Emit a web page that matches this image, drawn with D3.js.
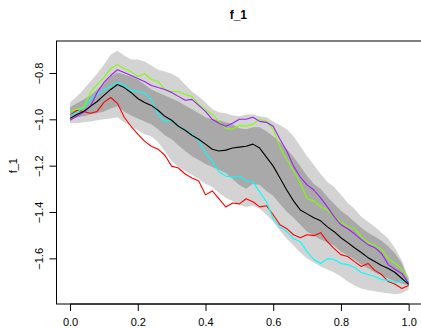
<!DOCTYPE html>
<html>
<head>
<meta charset="utf-8">
<script src="https://cdn.jsdelivr.net/npm/d3@7"></script>
<style>
  body { margin: 0; background: #fff; }
  svg { display: block; font-family: "Liberation Sans", Arial, sans-serif; }
</style>
</head>
<body>
<div id="chart"></div>
<script>
// sample positions along the x axis
const xs = [0, 0.02, 0.04, 0.06, 0.08, 0.10, 0.12, 0.14, 0.16, 0.18, 0.20, 0.22, 0.24, 0.26, 0.28, 0.30,
  0.32, 0.34, 0.36, 0.38, 0.40, 0.42, 0.44, 0.46, 0.48, 0.50, 0.52, 0.54, 0.56, 0.58, 0.60, 0.62, 0.64,
  0.66, 0.68, 0.70, 0.72, 0.74, 0.76, 0.78, 0.80, 0.82, 0.84, 0.86, 0.88, 0.90, 0.92, 0.94, 0.96, 0.98, 1.0];

// mean curve
const meanLine = [-0.996, -0.979, -0.966, -0.944, -0.923, -0.897, -0.871, -0.850, -0.863, -0.884, -0.910,
  -0.927, -0.940, -0.961, -0.987, -1.004, -1.030, -1.047, -1.069, -1.086, -1.107, -1.129, -1.137, -1.133,
  -1.124, -1.120, -1.116, -1.107, -1.124, -1.163, -1.202, -1.253, -1.305, -1.352, -1.391, -1.408, -1.425,
  -1.438, -1.464, -1.485, -1.511, -1.532, -1.554, -1.575, -1.597, -1.614, -1.631, -1.644, -1.661, -1.687, -1.712];

// outer (light) band
const outerHi = [-0.927, -0.901, -0.871, -0.837, -0.803, -0.764, -0.721, -0.704, -0.725, -0.742, -0.742,
  -0.751, -0.768, -0.786, -0.794, -0.803, -0.820, -0.850, -0.880, -0.901, -0.927, -0.957, -0.970, -0.974,
  -0.983, -0.987, -0.979, -0.979, -0.987, -0.991, -1.009, -1.026, -1.043, -1.073, -1.116, -1.159, -1.197,
  -1.236, -1.270, -1.292, -1.326, -1.361, -1.386, -1.421, -1.442, -1.464, -1.489, -1.515, -1.558, -1.609, -1.687];
const outerLo = [-1.017, -1.017, -1.013, -1.009, -1.004, -1.000, -0.996, -0.991, -1.013, -1.030, -1.047,
  -1.064, -1.073, -1.099, -1.137, -1.180, -1.206, -1.223, -1.240, -1.258, -1.279, -1.292, -1.318, -1.339,
  -1.352, -1.369, -1.378, -1.373, -1.386, -1.412, -1.442, -1.481, -1.515, -1.545, -1.575, -1.601, -1.618,
  -1.635, -1.648, -1.661, -1.678, -1.700, -1.717, -1.730, -1.738, -1.742, -1.747, -1.751, -1.755, -1.751, -1.734];

// inner (dark) band
const innerHi = [-0.948, -0.931, -0.914, -0.897, -0.871, -0.845, -0.815, -0.798, -0.807, -0.815, -0.828,
  -0.850, -0.871, -0.884, -0.897, -0.910, -0.923, -0.940, -0.957, -0.974, -0.991, -1.000, -1.004, -1.013,
  -1.021, -1.039, -1.043, -1.034, -1.034, -1.052, -1.073, -1.099, -1.129, -1.163, -1.202, -1.245, -1.279,
  -1.300, -1.335, -1.365, -1.395, -1.416, -1.442, -1.468, -1.489, -1.506, -1.524, -1.549, -1.579, -1.622, -1.695];
const innerLo = [-1.000, -0.991, -0.987, -0.979, -0.974, -0.966, -0.953, -0.944, -0.966, -0.983, -0.996,
  -1.009, -1.021, -1.043, -1.069, -1.086, -1.112, -1.137, -1.159, -1.176, -1.193, -1.206, -1.219, -1.232,
  -1.258, -1.283, -1.300, -1.279, -1.283, -1.309, -1.330, -1.365, -1.399, -1.425, -1.455, -1.485, -1.502,
  -1.519, -1.532, -1.545, -1.571, -1.588, -1.605, -1.627, -1.644, -1.661, -1.674, -1.687, -1.700, -1.708, -1.717];

// individual curves
const redLine = [-0.983, -0.961, -0.966, -0.974, -0.966, -0.927, -0.906, -0.931, -0.991, -1.030, -1.064,
  -1.094, -1.116, -1.129, -1.155, -1.202, -1.210, -1.236, -1.253, -1.266, -1.326, -1.309, -1.343, -1.378,
  -1.361, -1.365, -1.343, -1.356, -1.378, -1.373, -1.412, -1.455, -1.472, -1.498, -1.511, -1.498, -1.502,
  -1.489, -1.528, -1.558, -1.584, -1.592, -1.614, -1.635, -1.622, -1.652, -1.670, -1.700, -1.712, -1.730, -1.717];
const cyanLine = [-0.983, -0.970, -0.948, -0.914, -0.893, -0.871, -0.858, -0.841, -0.854, -0.876, -0.880,
  -0.888, -0.914, -0.979, -1.009, -1.004, -1.030, -1.047, -1.064, -1.090, -1.146, -1.180, -1.227, -1.245,
  -1.249, -1.245, -1.266, -1.270, -1.313, -1.356, -1.429, -1.464, -1.485, -1.515, -1.528, -1.571, -1.605,
  -1.622, -1.601, -1.605, -1.622, -1.627, -1.639, -1.661, -1.670, -1.678, -1.691, -1.695, -1.704, -1.700, -1.695];
const greenLine = [-0.966, -0.957, -0.948, -0.884, -0.850, -0.820, -0.781, -0.764, -0.781, -0.794, -0.815,
  -0.803, -0.828, -0.837, -0.871, -0.880, -0.880, -0.893, -0.901, -0.936, -0.957, -0.979, -1.009, -1.039,
  -1.043, -1.026, -1.030, -1.021, -1.000, -1.009, -1.043, -1.120, -1.172, -1.223, -1.275, -1.343, -1.352,
  -1.378, -1.391, -1.425, -1.442, -1.464, -1.472, -1.506, -1.532, -1.545, -1.562, -1.601, -1.622, -1.648, -1.687];
const purpleLine = [-1.004, -0.987, -0.970, -0.944, -0.884, -0.841, -0.811, -0.786, -0.798, -0.811, -0.824,
  -0.837, -0.854, -0.863, -0.871, -0.884, -0.901, -0.918, -0.914, -0.940, -0.966, -1.000, -1.017, -1.030,
  -1.017, -1.000, -1.000, -0.991, -1.009, -1.013, -1.030, -1.086, -1.137, -1.202, -1.249, -1.283, -1.305,
  -1.339, -1.378, -1.421, -1.455, -1.472, -1.494, -1.519, -1.541, -1.554, -1.579, -1.627, -1.648, -1.665, -1.708];

const xTicks = [0, 0.2, 0.4, 0.6, 0.8, 1.0];
const yTicks = [-1.6, -1.4, -1.2, -1.0, -0.8];

const width = 421, height = 328;
const plot = { left: 56.5, right: 422.2, top: 41, bottom: 304 };

const svg = d3.select('#chart').append('svg')
  .attr('width', width)
  .attr('height', height);

// R pads the data range by 4% on each side
const x = d3.scaleLinear().domain([-0.04, 1.04]).range([plot.left, plot.right]);
const y = d3.scaleLinear().domain([-1.797, -0.662]).range([plot.bottom, plot.top]);

const band = (hi, lo) => d3.area()
  .x((d, i) => x(xs[i]))
  .y0((d, i) => y(lo[i]))
  .y1((d, i) => y(hi[i]));

svg.append('path')
  .attr('d', band(outerHi, outerLo)(xs))
  .attr('fill', '#d3d3d3');

svg.append('path')
  .attr('d', band(innerHi, innerLo)(xs))
  .attr('fill', '#a9a9a9');

const line = d3.line()
  .x((d, i) => x(xs[i]))
  .y(d => y(d));

const curves = [
  { vals: redLine, color: '#ff0000' },
  { vals: cyanLine, color: '#00ffff' },
  { vals: greenLine, color: '#7fff00' },
  { vals: purpleLine, color: '#a020f0' },
  { vals: meanLine, color: '#000000' }
];

curves.forEach(c => {
  svg.append('path')
    .attr('d', line(c.vals))
    .attr('fill', 'none')
    .attr('stroke', c.color)
    .attr('stroke-width', 1.1)
    .attr('stroke-linejoin', 'round');
});

// box round the plot region
svg.append('rect')
  .attr('x', plot.left)
  .attr('y', plot.top)
  .attr('width', plot.right - plot.left)
  .attr('height', plot.bottom - plot.top)
  .attr('fill', 'none')
  .attr('stroke', '#000')
  .attr('stroke-width', 1);

// x axis, R style: line only between first and last tick
const xAxis = svg.append('g')
  .attr('transform', 'translate(0,' + plot.bottom + ')')
  .call(d3.axisBottom(x).tickValues(xTicks).tickSize(7).tickPadding(7)
    .tickFormat(d3.format('.1f')));
xAxis.select('.domain').remove();
xAxis.append('line')
  .attr('x1', x(xTicks[0])).attr('x2', x(xTicks[xTicks.length - 1]))
  .attr('stroke', '#000');
xAxis.selectAll('text')
  .attr('font-size', 11)
  .attr('font-family', '"Liberation Sans", Arial, sans-serif')
  .attr('fill', '#000');

const yAxis = svg.append('g')
  .attr('transform', 'translate(' + plot.left + ',0)')
  .call(d3.axisLeft(y).tickValues(yTicks).tickSize(7).tickFormat(d3.format('.1f')));
yAxis.select('.domain').remove();
yAxis.selectAll('text')
  .attr('font-size', 11)
  .attr('font-family', '"Liberation Sans", Arial, sans-serif')
  .attr('fill', '#000')
  .attr('x', null).attr('dy', null)
  .attr('text-anchor', 'middle')
  .attr('transform', 'translate(-13.5,0) rotate(-90)');
yAxis.selectAll('.tick line').attr('stroke', '#000');
xAxis.selectAll('.tick line').attr('stroke', '#000');

// titles
svg.append('text')
  .attr('x', (plot.left + plot.right) / 2 - 1)
  .attr('y', 19)
  .attr('text-anchor', 'middle')
  .attr('font-size', 12)
  .attr('font-weight', 'bold')
  .text('f_1');

svg.append('text')
  .attr('transform', 'translate(17,' + y(-1.2) + ') rotate(-90)')
  .attr('text-anchor', 'middle')
  .attr('font-size', 11)
  .text('f_1');
</script>
</body>
</html>
